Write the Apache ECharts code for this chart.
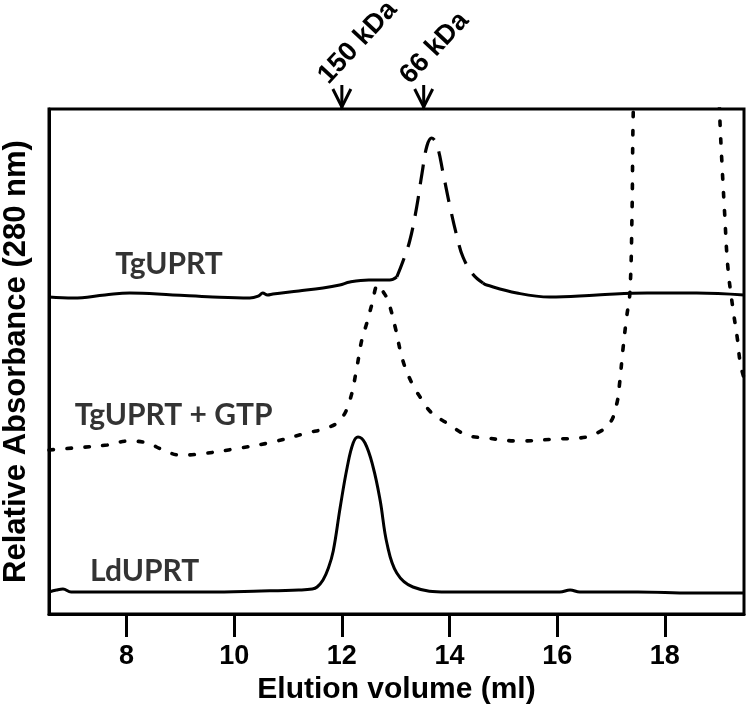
<!DOCTYPE html>
<html><head><meta charset="utf-8">
<script src="https://cdn.jsdelivr.net/npm/echarts@6/dist/echarts.min.js"></script>
<style>html,body{margin:0;padding:0;background:#fff}#c{width:750px;height:716px}</style>
</head><body><div id="c"></div>
<script>
// x: elution volume (ml), y: relative absorbance (arbitrary units, traces offset)
const xTicks = [8, 10, 12, 14, 16, 18];

const ldUPRT = [[6.56,22],[6.70,24],[6.82,25],[6.97,22],[7.5,22],[8.5,22],[9.5,22],[10.5,23],[11.2,24],[11.45,25],[11.54,27],[11.65,34],[11.75,46],[11.84,63],[11.97,107],[12.10,147],[12.21,171],[12.30,177],[12.43,171],[12.58,147],[12.71,114],[12.84,70],[13.02,41],[13.32,27],[13.95,22],[15.0,22],[16.05,22],[16.24,24],[16.42,22],[17.5,22],[18.5,21],[19.47,21]];

const tgLeft = [[6.56,317],[7.01,316],[7.6,319],[8.06,321],[8.86,319],[9.6,317],[10.29,316],[10.45,318],[10.53,321],[10.62,319],[10.72,320],[11.2,323],[11.65,326],[11.96,329],[12.15,332],[12.5,334],[12.89,334],[13.02,337]];
const tgPeak = [[13.02,337],[13.13,352],[13.26,373],[13.39,407],[13.49,441],[13.58,468],[13.67,476],[13.77,468],[13.88,441],[14.01,407],[14.14,377],[14.25,357],[14.43,340],[14.62,331]];
const tgRight = [[14.62,331],[14.69,329],[15.25,321],[15.86,317],[16.74,319],[17.67,321],[18.59,321],[19.47,319]];

const tgGTP = [[6.56,164],[7.01,166],[7.64,169],[8.03,173],[8.38,171],[8.68,164],[8.99,159],[9.36,160],[10.11,166],[10.72,172],[11.35,181],[11.72,186],[11.97,194],[12.15,214],[12.28,247],[12.37,274],[12.47,292],[12.56,310],[12.67,329],[12.77,322],[12.86,313],[12.99,287],[13.13,254],[13.30,231],[13.49,214],[13.67,201],[13.95,191],[14.32,179],[14.69,176],[15.30,173],[15.99,175],[16.42,176],[16.74,181],[16.98,191],[17.11,211],[17.16,231],[17.22,264],[17.29,297],[17.35,321],[17.39,401],[17.41,494],[17.45,560],[17.60,650],[18.80,650],[18.98,560],[19.02,497],[19.06,451],[19.11,401],[19.17,347],[19.26,307],[19.35,274],[19.40,251],[19.47,236]];

const traceLabels = [['TgUPRT',7.79,350],['TgUPRT + GTP',7.04,199],['LdUPRT',7.32,43]];
const markerVols = [12.0, 13.52];
const markerTexts = ['150 kDa', '66 kDa'];

const chart = echarts.init(document.getElementById('c'), null, {renderer:'canvas'});
const solid = {color:'#000', width:3, type:'solid'};
const lineBase = {type:'line', showSymbol:false, symbol:'none', smooth:0.4, silent:true, animation:false};
chart.setOption({
  animation:false,
  backgroundColor:'#fff',
  grid:{left:49, right:6, top:109, bottom:102, show:true, borderColor:'#000', borderWidth:3, containLabel:false, outerBoundsMode:'none'},
  xAxis:{type:'value', min:6.56, max:19.47,
    name:'Elution volume (ml)', nameLocation:'middle', nameGap:61,
    nameTextStyle:{fontFamily:'Liberation Sans', fontWeight:'bold', fontSize:30, color:'#000'},
    axisLine:{show:true, lineStyle:{color:'#000', width:3}},
    axisTick:{show:true, length:23, lineStyle:{color:'#000', width:3}, customValues:xTicks},
    axisLabel:{show:true, margin:29, fontFamily:'Liberation Sans', fontWeight:'bold', fontSize:27, color:'#000', customValues:xTicks},
    splitLine:{show:false}},
  yAxis:{type:'value', min:0, max:505,
    name:'Relative Absorbance (280 nm)', nameLocation:'middle', nameGap:17,
    nameTextStyle:{fontFamily:'Liberation Sans', fontWeight:'bold', fontSize:31, color:'#000'},
    axisLine:{show:true, lineStyle:{color:'#000', width:3}},
    axisTick:{show:false}, axisLabel:{show:false}, splitLine:{show:false}},
  series:[
    Object.assign({}, lineBase, {name:'LdUPRT', data:ldUPRT, lineStyle:solid}),
    Object.assign({}, lineBase, {name:'TgUPRT', data:tgLeft, lineStyle:solid}),
    Object.assign({}, lineBase, {name:'TgUPRT peak', data:tgPeak, lineStyle:{color:'#000', width:3.2, type:[20,12]}}),
    Object.assign({}, lineBase, {name:'TgUPRT right', data:tgRight, lineStyle:solid}),
    Object.assign({}, lineBase, {name:'TgUPRT + GTP', data:tgGTP, lineStyle:{color:'#000', width:3.6, type:[4.5,13.5], cap:'round'}}),
    {type:'scatter', silent:true, symbolSize:0, data:traceLabels.map(d=>[d[1],d[2],d[0]]),
      label:{show:true, position:'right', distance:0, formatter:p=>p.data[2],
        fontFamily:'Lato', fontWeight:'bold', fontSize:30, color:'#000'}}
  ]
});

const els = [];
markerVols.forEach((v,i)=>{
  const px = chart.convertToPixel({xAxisIndex:0}, v);
  els.push({type:'polyline', shape:{points:[[px,85],[px,108]]}, style:{stroke:'#000', lineWidth:3, fill:null}});
  els.push({type:'polyline', shape:{points:[[px-9,89],[px,107],[px+9,89]]}, style:{stroke:'#000', lineWidth:3, fill:null}});
  els.push({type:'text', x:px-9, y:89, rotation:47*Math.PI/180,
    style:{text:markerTexts[i], font:'bold 27px "Liberation Sans"', fill:'#000', align:'left', verticalAlign:'bottom'}});
});
chart.setOption({graphic:{elements:els}});
</script>
</body></html>
